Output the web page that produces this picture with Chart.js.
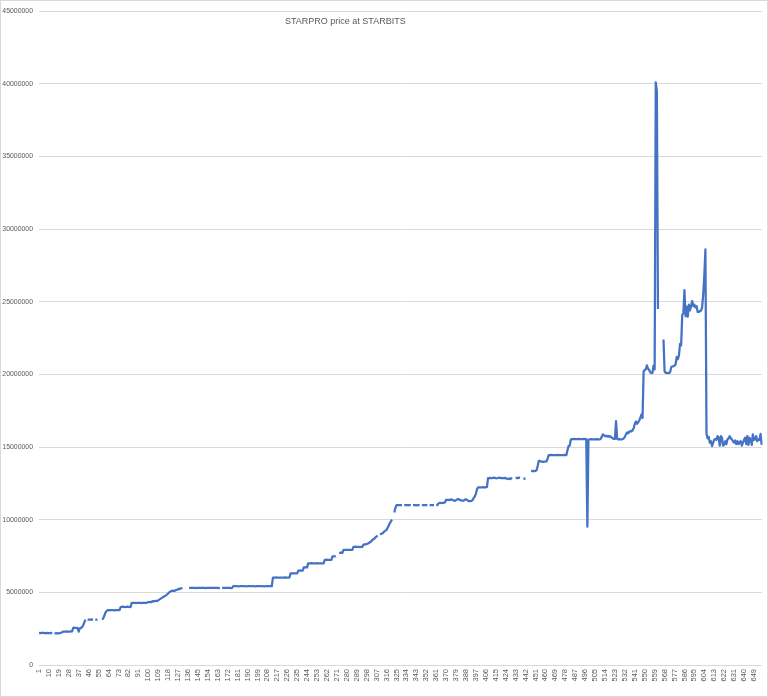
<!DOCTYPE html>
<html>
<head>
<meta charset="utf-8">
<script src="https://cdn.jsdelivr.net/npm/chart.js@4.4.1/dist/chart.umd.min.js"></script>
<style>
  html, body { margin: 0; padding: 0; background: #fff; }
  #wrap { position: relative; width: 766px; height: 695px; border: 1px solid #d9d9d9; }
  #price-chart { position: absolute; left: 0; top: 0; }
  #title { position: absolute; left: 284px; top: 14px; font: 9px/12px 'Liberation Sans', Arial, sans-serif; color: #595959; white-space: nowrap; }
</style>
</head>
<body>
<div id="wrap">
  <canvas id="price-chart" width="766" height="695"></canvas>
  <div id="title">STARPRO price at STARBITS</div>
</div>
<script>
// price per day, in millions (null = no value that day)
const pricesA = [ // days 1-100
  2.2, 2.21, 2.2, 2.22, 2.21, 2.2, 2.2, 2.21, 2.19, 2.2,
  2.2, 2.21, 2.2, null, 2.19, 2.18, 2.19, 2.17, 2.18, 2.2,
  2.22, 2.26, 2.3, 2.29, 2.3, 2.31, 2.3, 2.29, 2.3, 2.31,
  2.32, 2.56, 2.57, 2.55, 2.54, 2.55, 2.3, 2.53, 2.55, 2.6,
  2.72, 2.92, 3.13, null, 3.13, 3.12, 3.13, 3.13, 3.14, 3.13,
  null, 3.13, 3.12, 3.13, null, null, null, 3.15, 3.18, 3.35,
  3.56, 3.7, 3.77, 3.76, 3.77, 3.78, 3.77, 3.77, 3.76, 3.77,
  3.77, 3.78, 3.77, 3.77, 3.98, 4.0, 4.01, 4.0, 3.99, 4.0,
  4.02, 4.0, 4.0, 3.99, 4.27, 4.27, 4.28, 4.27, 4.26, 4.27,
  4.28, 4.27, 4.27, 4.26, 4.27, 4.28, 4.27, 4.28, 4.3, 4.33
]
const pricesB = [ // days 101-200
  4.33, 4.34, 4.33, 4.4, 4.38, 4.4, 4.42, 4.4, 4.45, 4.5,
  4.55, 4.6, 4.65, 4.7, 4.74, 4.78, 4.85, 4.92, 5.0, 5.05,
  5.1, 5.1, 5.12, 5.1, 5.15, 5.18, 5.2, 5.25, 5.24, 5.28,
  5.3, null, null, null, null, null, 5.3, 5.3, 5.31, 5.3,
  5.3, 5.3, 5.29, 5.3, 5.3, 5.3, 5.31, 5.3, 5.3, 5.3,
  5.3, 5.29, 5.3, 5.3, 5.3, 5.3, 5.31, 5.3, 5.3, 5.3,
  5.3, 5.3, 5.3, 5.29, 5.3, null, 5.3, 5.3, 5.3, 5.31,
  5.3, 5.3, 5.3, 5.3, 5.29, 5.3, 5.42, 5.42, 5.43, 5.42,
  5.42, 5.41, 5.42, 5.42, 5.42, 5.43, 5.42, 5.42, 5.41, 5.42,
  5.42, 5.42, 5.43, 5.42, 5.42, 5.42, 5.41, 5.42, 5.42, 5.42
]
const pricesC = [ // days 201-300
  5.42, 5.43, 5.42, 5.42, 5.41, 5.42, 5.42, 5.42, 5.43, 5.42,
  5.42, 5.42, 6.02, 6.02, 6.02, 6.03, 6.02, 6.02, 6.02, 6.01,
  6.02, 6.02, 6.02, 6.03, 6.02, 6.02, 6.02, 6.02, 6.3, 6.3,
  6.3, 6.31, 6.3, 6.3, 6.3, 6.5, 6.5, 6.51, 6.5, 6.5,
  6.72, 6.72, 6.73, 6.72, 7.0, 7.0, 7.0, 7.01, 7.0, 7.0,
  7.0, 7.0, 7.01, 7.0, 7.0, 7.0, 7.0, 7.0, 7.0, 7.24,
  7.24, 7.25, 7.24, 7.24, 7.24, 7.24, 7.47, 7.47, 7.48, 7.47,
  null, null, 7.72, 7.72, 7.73, 7.72, 7.92, 7.92, 7.92, 7.93,
  7.92, 7.92, 7.92, 7.92, 7.92, 8.13, 8.13, 8.14, 8.13, 8.13,
  8.13, 8.12, 8.13, 8.13, 8.27, 8.3, 8.3, 8.33, 8.35, 8.4
]
const pricesD = [ // days 301-400
  8.45, 8.5, 8.6, 8.65, 8.7, 8.79, 8.85, 8.9, null, 9.0,
  9.02, 9.05, 9.1, 9.2, 9.25, 9.3, 9.45, 9.6, 9.75, 9.9,
  10.0, null, 10.5, 10.8, 11.0, 11.0, 11.0, 11.01, 11.0, 11.0,
  null, 11.0, 11.0, 11.0, 11.01, 11.0, 11.0, 11.0, null, 11.0,
  11.0, 11.0, 10.99, 11.0, 11.0, 11.0, null, 11.0, 11.0, 11.0,
  11.01, 11.0, 11.0, null, 11.0, 11.0, 11.0, 11.0, 11.0, null,
  11.0, 11.0, 11.12, 11.15, 11.15, 11.14, 11.15, 11.16, 11.2, 11.37,
  11.37, 11.36, 11.35, 11.4, 11.38, 11.35, 11.32, 11.3, 11.35, 11.4,
  11.42, 11.38, 11.35, 11.33, 11.3, 11.32, 11.38, 11.4, 11.36, 11.3,
  11.28, 11.28, 11.3, 11.35, 11.5, 11.6, 11.8, 12.1, 12.22, 12.22
]
const pricesE = [ // days 401-500
  12.22, 12.23, 12.22, 12.24, 12.22, 12.23, 12.25, 12.86, 12.86, 12.88,
  12.85, 12.87, 12.9, 12.88, 12.86, 12.85, 12.87, 12.9, 12.88, 12.86,
  12.87, 12.85, 12.88, 12.86, 12.82, 12.8, 12.84, 12.8, 12.85, 12.86,
  null, null, 12.85, 12.88, 12.86, 12.9, 12.88, null, null, 12.84,
  12.82, 12.84, null, null, null, null, 13.36, 13.35, 13.36, 13.34,
  13.36, 13.4, 13.7, 14.05, 14.05, 14.0, 14.0, 13.98, 14.0, 14.0,
  14.02, 14.2, 14.45, 14.45, 14.46, 14.45, 14.44, 14.45, 14.45, 14.45,
  14.46, 14.45, 14.45, 14.44, 14.45, 14.45, 14.46, 14.45, 14.45, 14.8,
  15.07, 15.1, 15.5, 15.55, 15.55, 15.56, 15.55, 15.54, 15.55, 15.56,
  15.55, 15.55, 15.54, 15.55, 15.56, 15.55, 15.55, 9.52, 15.5, 15.53
]
const pricesF = [ // days 501-600
  15.53, 15.55, 15.53, 15.52, 15.54, 15.53, 15.55, 15.53, 15.52, 15.55,
  15.7, 15.87, 15.8, 15.75, 15.78, 15.72, 15.76, 15.7, 15.74, 15.65,
  15.6, 15.56, 15.56, 16.78, 15.56, 15.53, 15.55, 15.53, 15.52, 15.55,
  15.6, 15.7, 15.87, 16.0, 15.95, 16.05, 16.1, 16.08, 16.15, 16.3,
  16.6, 16.75, 16.6, 16.7, 16.83, 17.0, 17.24, 17.0, 20.2, 20.3,
  20.35, 20.62, 20.4, 20.3, 20.15, 20.09, 20.1, 20.6, 20.35, 40.1,
  39.5, 24.5, null, null, null, null, 22.4, 20.2, 20.1, 20.12,
  20.08, 20.1, 20.15, 20.5, 20.55, 20.55, 20.6, 20.7, 21.2, 21.05,
  21.3, 22.1, 22.0, 24.1, 24.2, 25.8, 24.0, 24.66, 23.97, 24.8,
  24.4, 24.7, 25.05, 24.7, 24.8, 24.6, 24.7, 24.3, 24.3, 24.35
]
const pricesG = [ // days 601-656
  24.4, 24.6, 25.5, 26.8, 28.6, 15.9, 15.6, 15.7, 15.3, 15.4,
  15.07, 15.3, 15.5, 15.55, 15.5, 15.75, 15.64, 15.1, 15.75, 15.64,
  15.1, 15.15, 15.4, 15.2, 15.53, 15.6, 15.75, 15.6, 15.53, 15.4,
  15.3, 15.45, 15.2, 15.4, 15.2, 15.35, 15.4, 15.1, 15.3, 15.5,
  15.64, 15.2, 15.75, 15.15, 15.64, 15.5, 15.15, 15.87, 15.5, 15.53,
  15.75, 15.4, 15.53, 15.5, 15.9, 15.15
]

// day labels shown under the axis
const tickDays = [1, 10, 19, 28, 37, 46, 55, 64, 73, 82, 91, 100, 109, 118, 127, 136,
  145, 154, 163, 172, 181, 190, 199, 208, 217, 226, 235, 244, 253, 262, 271, 280,
  289, 298, 307, 316, 325, 334, 343, 352, 361, 370, 379, 388, 397, 406, 415, 424,
  433, 442, 451, 460, 469, 478, 487, 496, 505, 514, 523, 532, 541, 550, 559, 568,
  577, 586, 595, 604, 613, 622, 631, 640, 649]
const yTicks = [0, 5000000, 10000000, 15000000, 20000000, 25000000, 30000000, 35000000, 40000000, 45000000]

const prices = [].concat(pricesA, pricesB, pricesC, pricesD, pricesE, pricesF, pricesG)
  .map(v => v === null ? null : Math.round(v * 1000000))
const days = prices.map((v, i) => String(i + 1))

const xFont = { family: "'Liberation Sans', Arial, sans-serif", size: 7.5 }
const yFont = { family: "'Liberation Sans', Arial, sans-serif", size: 6.9 }

const priceCanvas = document.getElementById('price-chart')

let priceChart = new Chart(priceCanvas, {
  type: 'line',
  data: {
    labels: days,
    datasets: [{
      data: prices,
      borderColor: '#4472C4',
      borderWidth: 2.25,
      borderJoinStyle: 'round',
      pointRadius: 0,
      tension: 0,
      fill: false,
      spanGaps: false
    }]
  },
  options: {
    responsive: false,
    animation: false,
    events: [],
    layout: { padding: { top: 7, right: 4, left: 0, bottom: 0 } },
    plugins: {
      legend: { display: false },
      tooltip: { enabled: false }
    },
    scales: {
      x: {
        type: 'category',
        offset: false,
        grid: { display: false, drawTicks: false },
        border: { display: false },
        ticks: {
          autoSkip: false,
          maxRotation: 90,
          minRotation: 90,
          padding: 4,
          color: '#595959',
          font: xFont,
          callback: function (val) {
            const d = Number(this.getLabelForValue(val))
            return tickDays.includes(d) ? String(d) : null
          }
        },
        afterFit: s => { s.height = 31 }
      },
      y: {
        min: yTicks[0],
        max: yTicks[yTicks.length - 1],
        afterBuildTicks: s => { s.ticks = yTicks.map(v => ({ value: v })) },
        grid: { color: '#d9d9d9', lineWidth: 1, drawTicks: false },
        border: { display: false },
        ticks: {
          padding: 6,
          color: '#595959',
          font: yFont,
          callback: v => String(v)
        },
        afterFit: s => { s.width = 38 }
      }
    }
  }
})
</script>
</body>
</html>
